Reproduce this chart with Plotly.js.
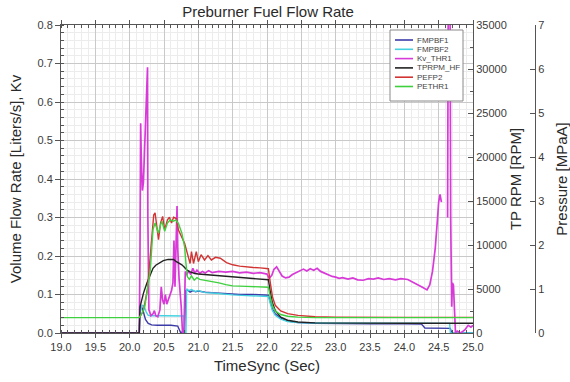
<!DOCTYPE html>
<html>
<head>
<meta charset="utf-8">
<script src="https://cdn.plot.ly/plotly-3.0.1.min.js"></script>
<style>html,body{margin:0;padding:0;background:#fff;}#chart{width:570px;height:382px;}</style>
</head>
<body>
<div id="chart"></div>
<script>
// ---------- data ----------
const seriesNames = ["FMPBF1", "FMPBF2", "Kv_THR1", "TPRPM_HF", "PEFP2", "PETHR1"];

// FMPBF1 [Liters/s]
const fmpbf1T = [19.0, 20.14, 20.15, 20.17, 20.2, 20.23, 20.27, 20.32, 20.4, 20.5, 20.6, 20.7, 20.72, 20.74, 20.8, 20.815, 20.84, 20.88, 20.92, 20.96, 21.0, 21.1, 21.2, 21.3, 21.4, 21.5, 21.6, 21.8, 22.0, 22.02, 22.05, 22.08, 22.12, 22.2, 22.3, 22.45, 22.7, 23.0, 23.5, 24.0, 24.25, 24.3, 24.5, 24.67, 24.69, 25.0];
const fmpbf1V = [0, 0, 0.065, 0.07, 0.055, 0.035, 0.025, 0.021, 0.02, 0.02, 0.02, 0.018, 0.008, 0.002, 0.002, 0.11, 0.112, 0.106, 0.11, 0.107, 0.109, 0.106, 0.105, 0.104, 0.102, 0.101, 0.1, 0.1, 0.099, 0.098, 0.08, 0.062, 0.05, 0.038, 0.031, 0.027, 0.025, 0.024, 0.024, 0.024, 0.023, 0.013, 0.013, 0.012, 0.0, 0.0];

// FMPBF2 [Liters/s]
const fmpbf2T = [19.0, 20.14, 20.15, 20.18, 20.21, 20.24, 20.27, 20.3, 20.5, 20.7, 20.79, 20.8, 20.82, 20.83, 20.86, 20.9, 20.95, 21.0, 21.1, 21.2, 21.3, 21.5, 21.7, 22.0, 22.02, 22.05, 22.08, 22.12, 22.2, 22.3, 22.45, 22.7, 23.0, 24.0, 24.6, 24.66, 24.67, 25.0];
const fmpbf2V = [0, 0, 0.05, 0.072, 0.07, 0.055, 0.046, 0.045, 0.045, 0.045, 0.044, 0.0, 0.0, 0.115, 0.11, 0.113, 0.108, 0.11, 0.105, 0.104, 0.102, 0.099, 0.097, 0.096, 0.095, 0.075, 0.058, 0.046, 0.036, 0.03, 0.027, 0.026, 0.026, 0.026, 0.026, 0.025, 0.0, 0.0];

// Kv_THR1 [-]
const kvT = [19.0, 20.14, 20.15, 20.16, 20.17, 20.185, 20.2, 20.23, 20.26, 20.265, 20.28, 20.31, 20.34, 20.36, 20.38, 20.41, 20.44, 20.46, 20.48, 20.5, 20.52, 20.54, 20.56, 20.58, 20.61, 20.63, 20.645, 20.66, 20.675, 20.69, 20.7, 20.72, 20.75, 20.77, 20.79, 20.81, 20.83, 20.86, 20.89, 20.92, 20.95, 20.98, 21.02, 21.06, 21.1, 21.15, 21.2, 21.3, 21.4, 21.5, 21.6, 21.7, 21.8, 21.9, 22.0, 22.03, 22.07, 22.1, 22.14, 22.18, 22.22, 22.27, 22.32, 22.37, 22.42, 22.47, 22.53, 22.58, 22.63, 22.68, 22.73, 22.78, 22.84, 22.9, 22.95, 23.0, 23.05, 23.1, 23.18, 23.25, 23.32, 23.4, 23.48, 23.55, 23.62, 23.7, 23.78, 23.87, 23.95, 24.05, 24.12, 24.2, 24.27, 24.33, 24.37, 24.41, 24.45, 24.48, 24.5, 24.52, 24.54, 24.55, 24.63, 24.645, 24.66, 24.67, 24.675, 24.69, 24.7, 24.715, 24.73, 24.745, 24.77, 24.82, 24.88, 24.93, 24.97, 25.0];
const kvV = [0, 0, 0.2, 0.545, 0.45, 0.37, 0.39, 0.55, 0.69, 0.3, 0.06, 0.045, 0.05, 0.058, 0.045, 0.042, 0.06, 0.12, 0.085, 0.075, 0.1, 0.075, 0.085, 0.095, 0.11, 0.13, 0.24, 0.12, 0.2, 0.33, 0.22, 0.14, 0.07, 0.0, 0.0, 0.16, 0.15, 0.162, 0.152, 0.168, 0.155, 0.163, 0.155, 0.16, 0.156, 0.162, 0.157, 0.16, 0.158, 0.16, 0.156, 0.158, 0.155, 0.157, 0.153, 0.142, 0.15, 0.165, 0.172, 0.158, 0.148, 0.143, 0.145, 0.152, 0.156, 0.162, 0.166, 0.161, 0.167, 0.163, 0.168, 0.16, 0.155, 0.152, 0.147, 0.145, 0.142, 0.144, 0.14, 0.143, 0.138, 0.137, 0.141, 0.14, 0.143, 0.139, 0.141, 0.138, 0.141, 0.139, 0.133, 0.126, 0.118, 0.112, 0.125, 0.16, 0.22, 0.29, 0.34, 0.36, 0.34, null, 0.3, 1.2, 1.2, 0.47, 0.3, 0.068, 0.13, 0.125, 0.065, 0.0, 0.005, 0.0, 0.008, 0.02, 0.015, 0.02];

// TPRPM_HF [RPM]
const rpmT = [19.0, 20.14, 20.15, 20.2, 20.25, 20.3, 20.34, 20.38, 20.42, 20.49, 20.56, 20.64, 20.68, 20.72, 20.76, 20.8, 20.83, 20.87, 20.9, 20.95, 21.0, 21.15, 21.3, 21.5, 21.75, 22.0, 22.02, 22.05, 22.08, 22.12, 22.2, 22.3, 22.45, 22.7, 23.0, 24.0, 25.0];
const rpmV = [0, 0, 2950, 4500, 5650, 6600, 7350, 7700, 7920, 8230, 8360, 8360, 8100, 7950, 7750, 7450, 7180, 6980, 6870, 6760, 6700, 6600, 6500, 6390, 6210, 6080, 6050, 4600, 3400, 2550, 1800, 1450, 1250, 1150, 1120, 1100, 1100];

// PEFP2 [MPaA]  (hidden under PETHR1 before the start)
const pefp2T = [20.14, 20.2, 20.26, 20.3, 20.33, 20.35, 20.37, 20.4, 20.42, 20.45, 20.48, 20.51, 20.55, 20.58, 20.61, 20.64, 20.68, 20.71, 20.76, 20.8, 20.84, 20.88, 20.9, 20.93, 20.97, 21.0, 21.04, 21.09, 21.14, 21.19, 21.25, 21.32, 21.41, 21.5, 21.6, 21.7, 21.8, 21.9, 22.0, 22.02, 22.05, 22.08, 22.12, 22.2, 22.3, 22.45, 22.7, 23.0, 24.0, 25.0];
const pefp2V = [0.35, 0.5, 1.0, 1.7, 2.4, 2.68, 2.73, 2.42, 2.12, 2.5, 2.65, 2.35, 2.57, 2.63, 2.5, 2.63, 2.6, 2.34, 2.19, 2.04, 1.81, 1.58, 1.85, 1.58, 1.85, 1.62, 1.78, 1.66, 1.76, 1.66, 1.72, 1.7, 1.6, 1.55, 1.52, 1.5, 1.49, 1.48, 1.47, 1.46, 1.12, 0.82, 0.63, 0.5, 0.44, 0.4, 0.37, 0.36, 0.355, 0.355];

// PETHR1 [MPaA]
const pethr1T = [19.0, 20.14, 20.18, 20.22, 20.26, 20.3, 20.34, 20.37, 20.4, 20.42, 20.45, 20.47, 20.51, 20.55, 20.59, 20.64, 20.67, 20.71, 20.76, 20.8, 20.82, 20.84, 20.87, 20.9, 20.94, 20.98, 21.02, 21.1, 21.2, 21.3, 21.4, 21.5, 21.7, 21.9, 22.0, 22.02, 22.05, 22.08, 22.12, 22.2, 22.3, 22.45, 22.7, 23.0, 24.0, 25.0];
const pethr1V = [0.35, 0.35, 0.45, 0.6, 1.0, 1.43, 2.35, 2.5, 2.35, 2.27, 2.46, 2.54, 2.31, 2.5, 2.57, 2.54, 2.57, 2.49, 2.27, 1.96, 1.58, 1.28, 1.22, 1.3, 1.2, 1.26, 1.22, 1.2, 1.18, 1.14, 1.1, 1.07, 1.06, 1.05, 1.05, 1.04, 0.8, 0.62, 0.5, 0.42, 0.38, 0.36, 0.35, 0.35, 0.35, 0.35];

// axis tick labels
const xTickVals = [19.0, 19.5, 20.0, 20.5, 21.0, 21.5, 22.0, 22.5, 23.0, 23.5, 24.0, 24.5, 25.0];
const flowTickVals = [0.0, 0.1, 0.2, 0.3, 0.4, 0.5, 0.6, 0.7, 0.8];
const rpmTickVals = [0, 5000, 10000, 15000, 20000, 25000, 30000, 35000];
const presTickVals = [0, 1, 2, 3, 4, 5, 6, 7];

// ---------- styles ----------
const colors = ["#3b3ba8", "#45d2e0", "#d83ad8", "#222222", "#d23434", "#3fd03f"];
const FONT = "Liberation Sans, Arial, Helvetica, sans-serif";

const W = 570, H = 382, ML = 61, MR = 0, MT = 25, MB = 49;
const plotW = W - ML - MR, plotH = H - MT - MB;
const px2x = p => (p - ML) / plotW;
const py2y = p => 1 - (p - MT) / plotH;

const traces = [
  {x: fmpbf1T, y: fmpbf1V, yaxis: "y"},
  {x: fmpbf2T, y: fmpbf2V, yaxis: "y"},
  {x: kvT, y: kvV, yaxis: "y"},
  {x: rpmT, y: rpmV, yaxis: "y2"},
  {x: pefp2T, y: pefp2V, yaxis: "y3"},
  {x: pethr1T, y: pethr1V, yaxis: "y3"}
].map((t, i) => Object.assign(t, {
  type: "scatter", mode: "lines", name: seriesNames[i], showlegend: false,
  connectgaps: false,
  line: {color: colors[i], width: i === 2 ? 1.7 : 1.4}
}));

// custom compact legend (box, sample lines, labels)
const legBox = {x0: px2x(390), x1: px2x(463), y0: py2y(101), y1: py2y(30)};
const shapes = [{
  type: "rect", xref: "paper", yref: "paper", layer: "above",
  x0: legBox.x0, x1: legBox.x1, y0: legBox.y0, y1: legBox.y1,
  fillcolor: "#ffffff", line: {color: "#8a8a8a", width: 1}
}];
const annotations = [];
seriesNames.forEach((n, i) => {
  const yy = py2y(40 + i * 9.3);
  shapes.push({type: "line", xref: "paper", yref: "paper", layer: "above",
    x0: px2x(395), x1: px2x(413), y0: yy, y1: yy,
    line: {color: colors[i], width: 1.6}});
  annotations.push({xref: "paper", yref: "paper", x: px2x(415), y: yy,
    xanchor: "left", yanchor: "middle", showarrow: false, text: n,
    font: {family: FONT, size: 8, color: "#444"}});
});

const axisFont = {family: FONT, size: 11, color: "#3a3a3a"};
const titleFont = {family: FONT, size: 15, color: "#2a2a2a"};

const layout = {
  width: W, height: H,
  margin: {l: ML, r: MR, t: MT, b: MB, pad: 0},
  paper_bgcolor: "#ffffff", plot_bgcolor: "#ffffff",
  font: {family: FONT},
  title: {text: "Preburner Fuel Flow Rate", font: {family: FONT, size: 15, color: "#2a2a2a"},
    xref: "paper", x: px2x(268), xanchor: "center", yref: "container", y: 1 - 12 / H, yanchor: "middle"},
  xaxis: {
    domain: [0, px2x(473)], range: [19, 25],
    tickvals: xTickVals, tickformat: ".1f", tickfont: axisFont,
    showline: true, linecolor: "#555", linewidth: 1, mirror: "ticks",
    ticks: "outside", ticklen: 4, tickcolor: "#555",
    showgrid: true, gridcolor: "#c9c9c9", gridwidth: 1, zeroline: false,
    minor: {dtick: 0.1, ticks: "inside", ticklen: 3, tickcolor: "#555", showgrid: true, gridcolor: "#ececec", gridwidth: 1},
    title: {text: "TimeSync (Sec)", font: titleFont, standoff: 8}
  },
  yaxis: {
    range: [0, 0.8], tickvals: flowTickVals, tickformat: ".1f", tickfont: axisFont,
    showline: true, linecolor: "#555", linewidth: 1,
    ticks: "outside", ticklen: 5, tickcolor: "#555",
    showgrid: true, gridcolor: "#c9c9c9", gridwidth: 1, zeroline: false,
    minor: {dtick: 0.02, ticks: "inside", ticklen: 3, tickcolor: "#555", showgrid: true, gridcolor: "#ececec", gridwidth: 1},
    title: {text: "Volume Flow Rate [Liters/s], Kv", font: titleFont, standoff: 12}
  },
  yaxis2: {
    overlaying: "y", side: "right", anchor: "x",
    range: [0, 35000], tickvals: rpmTickVals, tickformat: "d", tickfont: axisFont,
    showline: true, linecolor: "#555", linewidth: 1,
    ticks: "inside", ticklen: 5, tickcolor: "#555",
    showgrid: false, zeroline: false,
    minor: {dtick: 2500, ticks: "inside", ticklen: 3, tickcolor: "#555", showgrid: false},
    title: {text: "TP RPM [RPM]", font: titleFont, standoff: 3}
  },
  yaxis3: {
    overlaying: "y", side: "right", anchor: "free", position: px2x(535),
    range: [0, 7], tickvals: presTickVals, tickfont: axisFont,
    showline: true, linecolor: "#555", linewidth: 1,
    ticks: "inside", ticklen: 5, tickcolor: "#555",
    showgrid: false, zeroline: false,
    title: {text: "Pressure [MPaA]", font: titleFont, standoff: 13}
  },
  shapes: shapes,
  annotations: annotations,
  showlegend: false
};

Plotly.newPlot("chart", traces, layout, {staticPlot: true, displayModeBar: false});
</script>
</body>
</html>
